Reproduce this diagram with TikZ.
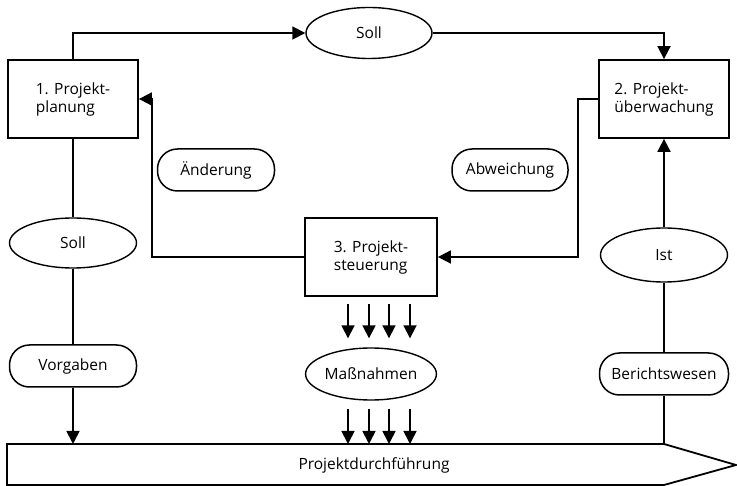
\documentclass[tikz,border=0pt]{standalone}
\usepackage{fontspec}
\setmainfont{Open Sans}
\usetikzlibrary{arrows.meta,shapes.geometric}
\tikzset{
  phase/.style={draw,minimum width=130pt,minimum height=78pt,align=left,inner sep=0pt},
  oval/.style={draw,ellipse,inner sep=0pt,line width=1.4pt},
  pill/.style={draw,rounded corners=20pt,minimum height=42pt,inner sep=0pt,line width=1.5pt},
  pfeil/.style={-{Triangle[length=13pt,width=13pt]}}
}
\begin{document}
\begin{tikzpicture}[x=1pt,y=-1pt,line width=1.8pt,font=\fontsize{15.5}{18}\selectfont]
    \useasboundingbox (0,0) rectangle (737,486);
    % Phasen
    \node[phase] (plan) at (73,99) {1. Projekt-\\planung};
    \node[phase] (ueberw) at (664,99) {2. Projekt-\\überwachung};
    \node[phase,minimum width=132pt] (steuer) at (371,257) {3. Projekt-\\steuerung};
    % Ovale
    \node[oval,minimum width=126pt,minimum height=51pt] (sollA) at (369,33) {Soll};
    \node[oval,minimum width=127pt,minimum height=50pt] (sollB) at (73,243) {Soll};
    \node[oval,minimum width=127pt,minimum height=54pt] (ist) at (664,255) {Ist};
    \node[oval,minimum width=122pt,minimum height=52pt] (massn) at (371,374) {Maßnahmen};
    % Beschriftungen
    \node[pill,minimum width=117pt] (aend) at (216,170) {Änderung};
    \node[pill,minimum width=116pt] (abw) at (510,170) {Abweichung};
    \node[pill,minimum width=127pt] (vorg) at (73,366) {Vorgaben};
    \node[pill,minimum width=129pt] (bericht) at (664,374) {Berichtswesen};
    % Projektdurchfuehrung
    \draw (7,444) -- (664,444) -- (736,465) -- (664,485) -- (7,485) -- cycle;
    \node (durch) at (374,465) {Projektdurchführung};
    \coordinate (top) at (371,444);
    \coordinate (knickL) at (152,0);
    \coordinate (knickR) at (578,0);
    % Regelkreis
    \draw[pfeil] (plan.north) |- (sollA.west);
    \draw[pfeil] (sollA.east) -| (ueberw.north);
    \draw[pfeil] (ueberw.west) -| (knickR |- steuer.east) -- (steuer.east);
    \draw[pfeil] (steuer.west) -- (knickL |- steuer.west) |- (plan.east);
    \draw (plan) -- (sollB);
    \draw (sollB) -- (vorg);
    \draw[pfeil] (vorg.south) -- (vorg.south |- top);
    \draw[pfeil] (ist) -- (ueberw);
    \draw (ist) -- (bericht);
    \draw (bericht.south) -- (bericht.south |- top);
    \foreach \dx in {-23,-2,18,39} {
      \draw[pfeil] ([xshift=\dx pt,yshift=-7pt]steuer.south) -- ([xshift=\dx pt,yshift=9pt]massn.north);
      \draw[pfeil] ([xshift=\dx pt,yshift=-8pt]massn.south) -- ([xshift=\dx pt]top);
    }
  \end{tikzpicture}
\end{document}
